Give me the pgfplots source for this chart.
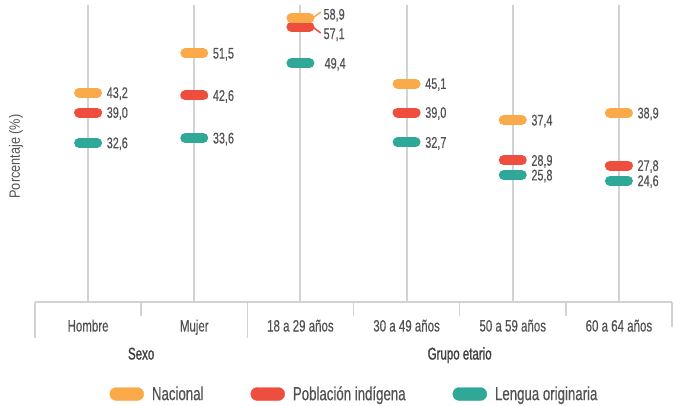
\documentclass[border=0pt]{standalone}
\usepackage{fontspec}
\setmainfont{Liberation Sans}[FakeStretch=0.7, FakeBold=0.4]
\newfontfamily\labelfont{Liberation Sans}[FakeStretch=0.85]
\newfontfamily\groupfont{Liberation Sans}[FakeStretch=0.68, FakeBold=1.3]
\usepackage{pgfplots}
\pgfplotsset{compat=1.18}
\definecolor{cNac}{HTML}{FBAA4A}
\definecolor{cInd}{HTML}{EE4E3E}
\definecolor{cLen}{HTML}{2FA897}
\definecolor{gridgray}{HTML}{D2D2D2}
\definecolor{txtgray}{HTML}{525252}
\definecolor{darkgray}{HTML}{404040}
\begin{document}
\begin{tikzpicture}
\begin{axis}[
  scale only axis,
  width=637bp, height=297bp,
  xmin=-0.5, xmax=5.5,
  ymin=-1, ymax=61.7,
  clip=false,
  axis line style={draw=none},
  xtick={0,1,2,3,4,5},
  xticklabels={Hombre,Mujer,18 a 29 años,30 a 49 años,50 a 59 años,60 a 64 años},
  major tick length=0pt,
  xticklabel style={anchor=base, yshift=-29.5bp, font=\fontsize{16.5}{18}\selectfont, text=txtgray, inner sep=0pt},
  ytick=\empty,
  xmajorgrids,
  grid style={gridgray, line width=2bp},
  ylabel={Porcentaje (\%)},
  ylabel style={at={(axis description cs:-0.0298,0.49)}, anchor=center, font=\labelfont\fontsize{15}{17}\selectfont, text=txtgray},
  /pgf/number format/.cd, fixed, fixed zerofill, precision=1, use comma, assume math mode=true,
  /pgfplots/.cd,
  nodes near coords style={anchor=west, inner sep=0pt, text depth=0pt, font=\fontsize{15.5}{17}\selectfont, text=txtgray},
  legend columns=-1,
  legend style={draw=none, fill=none, at={(0.5,-0.3098)}, anchor=center,
    font=\fontsize{19}{21}\selectfont, text=txtgray,
    nodes={inner sep=0pt},
    /tikz/every odd column/.append style={column sep=8bp},
    /tikz/every even column/.append style={column sep=47bp}},
]
\coordinate (O) at (rel axis cs:0,0);
% axis base line and separators
\draw[gridgray, line width=1.6bp] (rel axis cs:0,0) -- (rel axis cs:1,0);
\draw[gridgray, line width=1.6bp] (axis cs:-0.5,-1) -- ([yshift=-36bp]axis cs:-0.5,-1);
\draw[gridgray, line width=1.6bp] (axis cs:1.5,-1) -- ([yshift=-36bp]axis cs:1.5,-1);
\draw[gridgray, line width=1.6bp] (axis cs:5.5,-1) -- ([yshift=-25bp]axis cs:5.5,-1);
\draw[gridgray, line width=1.6bp] (axis cs:0.5,-1) -- ([yshift=-14bp]axis cs:0.5,-1);
\draw[gridgray, line width=1.6bp] (axis cs:2.5,-1) -- ([yshift=-14bp]axis cs:2.5,-1);
\draw[gridgray, line width=1.6bp] (axis cs:3.5,-1) -- ([yshift=-14bp]axis cs:3.5,-1);
\draw[gridgray, line width=1.6bp] (axis cs:4.5,-1) -- ([yshift=-14bp]axis cs:4.5,-1);
\node[anchor=base, font=\groupfont\fontsize{17}{19}\selectfont, text=darkgray, inner sep=0pt] at ([yshift=-57.5bp]axis cs:0.5,-1) {Sexo};
\node[anchor=base, font=\groupfont\fontsize{17}{19}\selectfont, text=darkgray, inner sep=0pt] at ([yshift=-57.5bp]axis cs:3.5,-1) {Grupo etario};

% markers
\addplot[only marks, mark=-, mark size=9bp, mark options={cLen, line width=10bp, line cap=round}, forget plot]
  coordinates {(0,32.6) (1,33.6) (2,49.4) (3,32.7) (4,25.8) (5,24.6)};
\addplot[only marks, mark=-, mark size=9bp, mark options={cInd, line width=10bp, line cap=round}, forget plot]
  coordinates {(0,39.0) (1,42.6) (2,57.1) (3,39.0) (4,28.9) (5,27.8)};
\addplot[only marks, mark=-, mark size=9bp, mark options={cNac, line width=10bp, line cap=round}, forget plot]
  coordinates {(0,43.2) (1,51.5) (2,58.9) (3,45.1) (4,37.4) (5,38.9)};

% labels
\addplot[only marks, mark=none, forget plot, nodes near coords, nodes near coords style={xshift=18.5bp}]
  coordinates {(0,43.2) (1,51.5) (3,45.1) (4,37.4) (5,38.9)};
\addplot[only marks, mark=none, forget plot, nodes near coords, nodes near coords style={xshift=18.5bp}]
  coordinates {(0,39.0) (1,42.6) (3,39.0) (4,28.9) (5,27.8)};
\addplot[only marks, mark=none, forget plot, nodes near coords, nodes near coords style={xshift=18.5bp}]
  coordinates {(0,32.6) (1,33.6) (3,32.7) (4,25.8) (5,24.6)};
\addplot[only marks, mark=none, forget plot, nodes near coords, nodes near coords style={xshift=23bp, yshift=4bp}]
  coordinates {(2,58.9)};
\addplot[only marks, mark=none, forget plot, nodes near coords, nodes near coords style={xshift=23bp, yshift=-7bp}]
  coordinates {(2,57.1)};
\addplot[only marks, mark=none, forget plot, nodes near coords, nodes near coords style={xshift=24bp}]
  coordinates {(2,49.4)};
% leader lines
\draw[cNac, line width=1.5bp, line cap=round] ([xshift=12bp]axis cs:2,58.9) -- ([xshift=20bp,yshift=6bp]axis cs:2,58.9);
\draw[cInd, line width=1.5bp, line cap=round] ([xshift=12bp]axis cs:2,57.1) -- ([xshift=20bp,yshift=-6bp]axis cs:2,57.1);

% legend
\addlegendimage{legend image code/.code={\fill[cNac, rounded corners=6.5bp] (0bp,-6.5bp) rectangle (34bp,6.5bp);}}
\addlegendentry{Nacional}
\addlegendimage{legend image code/.code={\fill[cInd, rounded corners=6.5bp] (0bp,-6.5bp) rectangle (34bp,6.5bp);}}
\addlegendentry{Población indígena}
\addlegendimage{legend image code/.code={\fill[cLen, rounded corners=6.5bp] (0bp,-6.5bp) rectangle (34bp,6.5bp);}}
\addlegendentry{Lengua originaria}
\end{axis}
\pgfresetboundingbox
\path[use as bounding box] ([shift={(-35bp,-104bp)}]O) rectangle ([shift={(640bp,302bp)}]O);
\end{tikzpicture}
\end{document}
